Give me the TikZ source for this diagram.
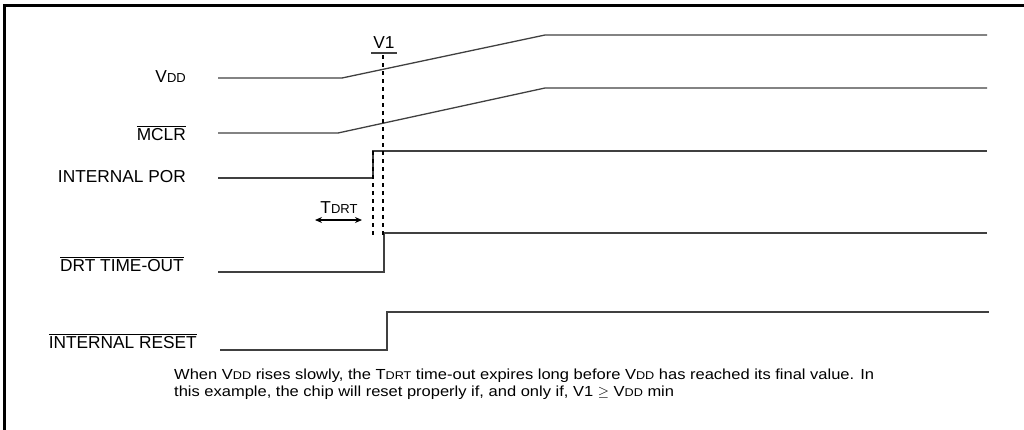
\documentclass[tikz,border=0pt]{standalone}
\usepackage{fontspec}
\setmainfont{Liberation Sans}
\newfontfamily\notefont[FakeStretch=1.13]{Liberation Sans}
\usetikzlibrary{arrows.meta}
\tikzstyle{wave}=[draw, line width=1.3pt, black!75]
\tikzstyle{signal}=[anchor=base east, inner sep=0pt, font=\fontsize{17.3}{18}\selectfont]
\tikzstyle{mark line}=[draw, line width=1.1pt, dash pattern=on 3.5pt off 4.5pt, black]
\tikzstyle{frame}=[draw, line width=3pt, black]
\tikzstyle{note}=[anchor=base west, inner sep=0pt, font=\notefont\fontsize{14.6}{14}\selectfont]
\newcommand{\lowcaps}[1]{{\fontsize{13}{13}\selectfont #1}}
\newcommand{\notecaps}[1]{{\fontsize{11.2}{11.2}\selectfont #1}}

\begin{document}
\begin{tikzpicture}[x=1pt, y=-1pt]
	\useasboundingbox (0,0) rectangle (1024,429);
	\clip (0,0) rectangle (1024,429);
	\draw[frame] (4.5,5.5) rectangle (1080,480);

	% signal names
	\node[signal] (vdd) at (186,82) {V\lowcaps{DD}};
	\node[signal] (mclr) at (186,140) {$\overline{\mbox{MCLR}}$};
	\node[signal] (por) at (186,182) {INTERNAL POR};
	\node[signal] (drt) at (184,271) {$\overline{\mbox{DRT TIME-OUT}}$};
	\node[signal] (reset) at (197,348) {$\overline{\mbox{INTERNAL RESET}}$};

	% waveforms
	\draw[wave] (218,78) coordinate (vdd-lo) -- (342,78) -- (545,35) -- (987,35) coordinate (vdd-hi);
	\draw[wave] (218,133) coordinate (mclr-lo) -- (338,133) -- (545,88) -- (987,88) coordinate (mclr-hi);
	\draw[wave] (218,178) coordinate (por-lo) -- (373,178) -- (373,151) -- (987,151) coordinate (por-hi);
	\draw[wave] (218,272) coordinate (drt-lo) -- (384,272) -- (384,233) -- (987,233) coordinate (drt-hi);
	\draw[wave] (220,350) coordinate (reset-lo) -- (387,350) -- (387,312) -- (989,312) coordinate (reset-hi);

	% V1 marker
	\node[signal, anchor=base] (v1) at (384,48) {V1};
	\coordinate (v1-top) at (383,55);
	\coordinate (v1-bot) at (383,236);
	\draw[wave] (371,53) -- (397,53);
	\draw[mark line] (v1-top) -- (v1-bot);

	% TDRT marker
	\coordinate (por-top) at (373,151);
	\coordinate (por-bot) at (373,235);
	\draw[mark line] (por-top) -- (por-bot);
	\node[signal, anchor=base] (tdrt) at (339,213) {T\lowcaps{DRT}};
	\coordinate (tdrt-l) at (315,220);
	\coordinate (tdrt-r) at (362,220);
	\draw[line width=1.1pt, {Stealth[length=7pt,width=6pt]}-{Stealth[length=7pt,width=6pt]}] (tdrt-l) -- (tdrt-r);

	% note
	\node[note] (note1) at (174,379.5) {When V\notecaps{DD} rises slowly, the T\notecaps{DRT} time-out expires long before V\notecaps{DD} has reached its final value. In};
	\node[note] (note2) at (174,396) {this example, the chip will reset properly if, and only if, V1 \(\geq\) V\notecaps{DD} min};
\end{tikzpicture}
\end{document}
